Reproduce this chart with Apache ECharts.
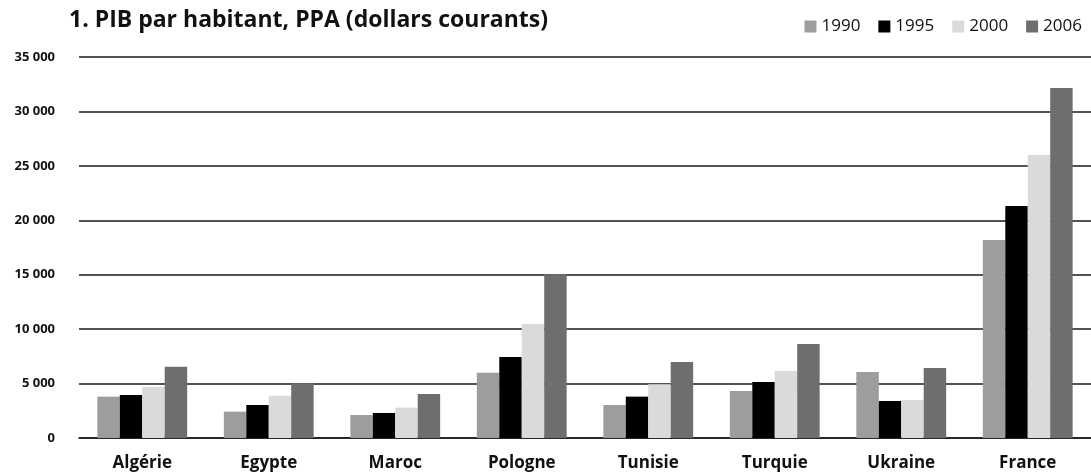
<!DOCTYPE html>
<html>
<head>
<meta charset="utf-8">
<script src="https://cdn.jsdelivr.net/npm/echarts@6/dist/echarts.min.js"></script>
<style>
  html, body { margin: 0; padding: 0; background: #fff; }
  #chart { width: 1091px; height: 473px; }
</style>
</head>
<body>
<div id="chart"></div>
<script>
// données
const pays = ['Algérie', 'Egypte', 'Maroc', 'Pologne', 'Tunisie', 'Turquie', 'Ukraine', 'France']
const pib1990 = [3800, 2420, 2110, 6000, 3030, 4320, 6060, 18190]
const pib1995 = [3950, 3030, 2300, 7440, 3800, 5140, 3400, 21310]
const pib2000 = [4710, 3890, 2790, 10470, 4930, 6150, 3490, 26000]
const pib2006 = [6550, 5020, 4040, 15040, 6980, 8630, 6430, 32150]
const annees = ['1990', '1995', '2000', '2006']
const couleurs = ['#9d9d9f', '#000000', '#d9dadb', '#6e6e70']

const chart = echarts.init(document.getElementById('chart'))
const font = '"Open Sans", "DejaVu Sans", sans-serif'

const serie = (nom, data, i) => ({
  name: nom,
  type: 'bar',
  data: data,
  barGap: '0%',
  barCategoryGap: '29%',
  itemStyle: { color: couleurs[i] },
  z: 3
})

chart.setOption({
  animation: false,
  textStyle: { fontFamily: font },
  title: {
    text: '1. PIB par habitant, PPA (dollars courants)',
    left: 64,
    top: 4,
    textStyle: { fontSize: 23, fontWeight: 'bold', color: '#111', fontFamily: font }
  },
  legend: {
    data: annees,
    right: 4,
    top: 13,
    itemWidth: 12,
    itemHeight: 12,
    itemGap: 18,
    icon: 'rect',
    textStyle: { fontSize: 17, color: '#111', fontFamily: font }
  },
  grid: { left: 79, right: 0, top: 57, bottom: 35 },
  xAxis: {
    type: 'category',
    data: pays,
    axisTick: { show: false },
    axisLine: { lineStyle: { color: '#1a1a1a', width: 1.5 } },
    axisLabel: { fontSize: 17, fontWeight: 'bold', color: '#111', margin: 17, fontFamily: font }
  },
  yAxis: {
    type: 'value',
    min: 0,
    max: 35000,
    interval: 5000,
    axisLine: { show: false },
    axisTick: { show: false },
    splitLine: { lineStyle: { color: '#1a1a1a', width: 1.5 } },
    axisLabel: {
      fontSize: 13,
      fontWeight: 'bold',
      color: '#111',
      margin: 24,
      fontFamily: font,
      formatter: v => v === 0 ? '0' : String(v).replace(/\B(?=(\d{3})+(?!\d))/g, ' ')
    }
  },
  series: [
    serie('1990', pib1990, 0),
    serie('1995', pib1995, 1),
    serie('2000', pib2000, 2),
    serie('2006', pib2006, 3)
  ]
})
</script>
</body>
</html>
